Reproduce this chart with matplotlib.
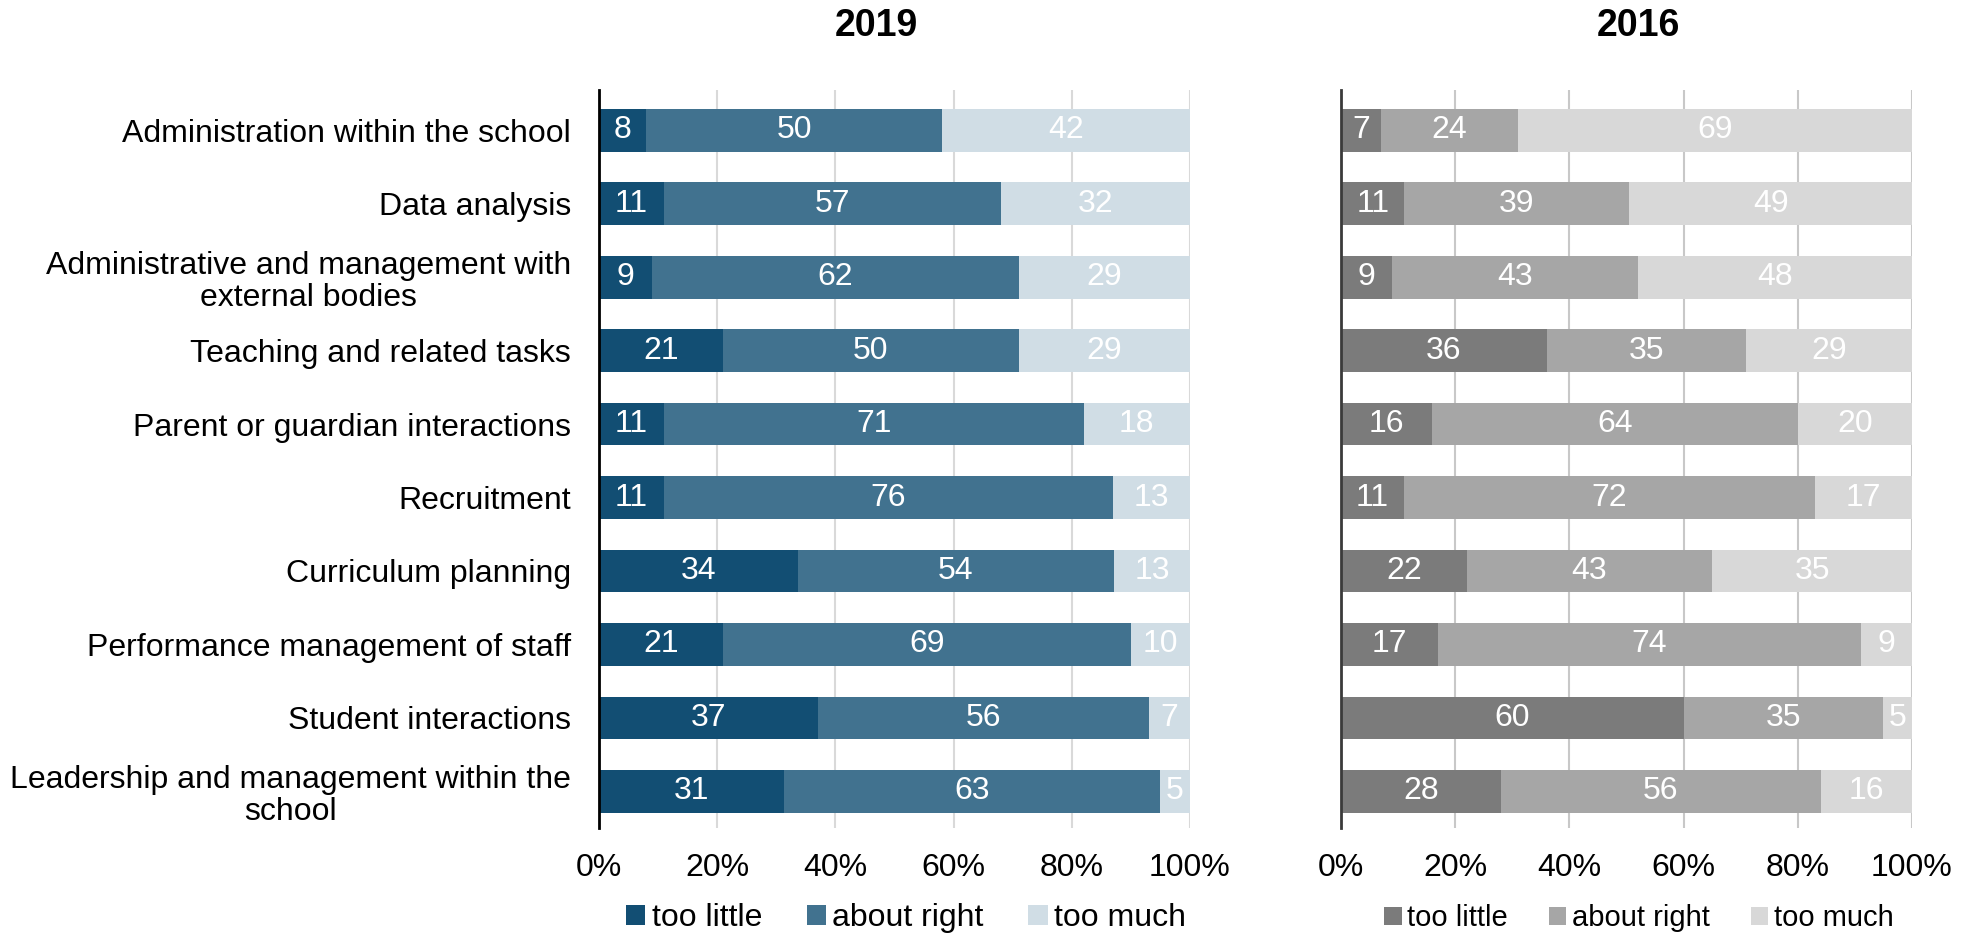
import numpy as np
import matplotlib
matplotlib.use("Agg")
import matplotlib.pyplot as plt
from matplotlib.patches import Patch

plt.rcParams["font.family"] = ["Liberation Sans", "DejaVu Sans"]

# Survey rows, top to bottom
categories = [
    "Administration within the school",
    "Data analysis",
    "Administrative and management with\nexternal bodies",
    "Teaching and related tasks",
    "Parent or guardian interactions",
    "Recruitment",
    "Curriculum planning",
    "Performance management of staff",
    "Student interactions",
    "Leadership and management within the\nschool",
]
series = ["too little", "about right", "too much"]

little_2019 = [8, 11, 9, 21, 11, 11, 34, 21, 37, 31]
right_2019 = [50, 57, 62, 50, 71, 76, 54, 69, 56, 63]
much_2019 = [42, 32, 29, 29, 18, 13, 13, 10, 7, 5]

little_2016 = [7, 11, 9, 36, 16, 11, 22, 17, 60, 28]
right_2016 = [24, 39, 43, 35, 64, 72, 43, 74, 35, 56]
much_2016 = [69, 49, 48, 29, 20, 17, 35, 9, 5, 16]

blues = ["#124e73", "#41728f", "#d0dde5"]
greys = ["#7b7b7b", "#a6a6a6", "#d8d8d8"]

FS = 23

fig = plt.figure(figsize=(19.62, 9.36), dpi=100)


def stacked(ax, rows, colors, title, spine_col, grid_col, legend_x, legend_fs, title_x):
    data = np.array(rows, dtype=float).T
    # 100% stacked: each row scaled by its own total
    shares = data / data.sum(axis=1, keepdims=True) * 100
    y = np.arange(len(categories))
    left = np.zeros(len(categories))
    for k in range(3):
        ax.barh(y, shares[:, k], left=left, height=0.58, color=colors[k],
                edgecolor="none", zorder=3)
        for i in range(len(y)):
            ax.text(left[i] + shares[i, k] / 2, y[i], f"{int(data[i, k])}",
                    ha="center", va="center", color="white", fontsize=FS, zorder=4)
        left += shares[:, k]
    ax.set_xlim(0, 100)
    ax.set_ylim(9.5, -0.55)
    ax.set_xticks(np.arange(0, 101, 20))
    ax.set_xticklabels([f"{v}%" for v in range(0, 101, 20)], fontsize=FS)
    ax.tick_params(axis="x", length=0, pad=18)
    ax.tick_params(axis="y", length=0)
    ax.grid(axis="x", color=grid_col, linewidth=1.5, zorder=0)
    for s in ["top", "right", "bottom"]:
        ax.spines[s].set_visible(False)
    ax.spines["left"].set_color(spine_col)
    ax.spines["left"].set_linewidth(2)
    ax.spines["left"].set_zorder(5)
    handles = [Patch(facecolor=c, edgecolor="none") for c in colors]
    fig.legend(handles, series, loc="center", bbox_to_anchor=(legend_x, 0.019),
               ncol=3, frameon=False, fontsize=legend_fs, handlelength=0.6,
               handleheight=0.6, handletextpad=0.2, columnspacing=1.4)
    fig.text(title_x, 0.972, title, ha="center", va="center",
             fontsize=27, fontweight="bold")


ax1 = fig.add_axes([0.3053, 0.1154, 0.3012, 0.7885])
stacked(ax1, [little_2019, right_2019, much_2019], blues, "2019",
        "black", "#d9d9d9", 0.4618, FS, 0.4465)
ax1.set_yticks(np.arange(len(categories)))
ax1.set_yticklabels(categories, fontsize=FS, multialignment="center",
                    linespacing=1.1)
ax1.tick_params(axis="y", pad=20)

ax2 = fig.add_axes([0.6835, 0.1154, 0.2910, 0.7885])
stacked(ax2, [little_2016, right_2016, much_2016], greys, "2016",
        "#3a3a3a", "#c8c8c8", 0.8354, 21, 0.835)
ax2.set_yticks([])

fig.savefig("out.png", dpi=100)
